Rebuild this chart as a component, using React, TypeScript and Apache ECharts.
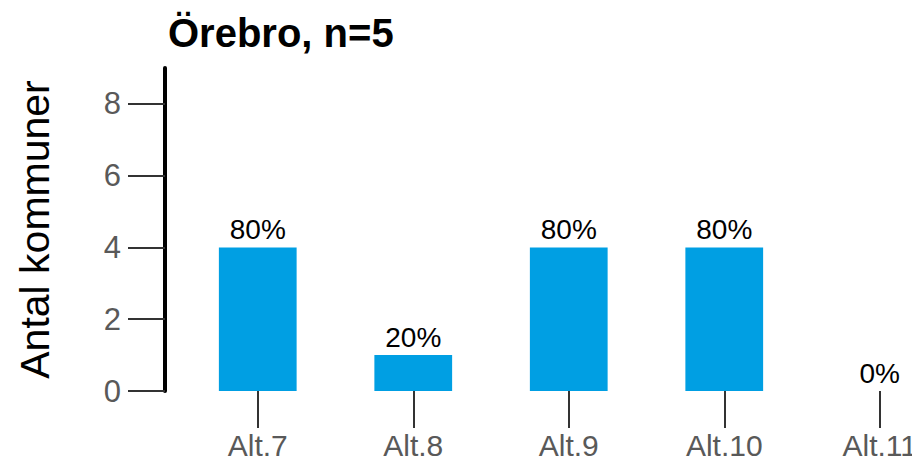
import React, { useEffect, useRef } from "react";
import * as echarts from "echarts";

const titleText = "Örebro, n=5";
const n = 5;
const categories = ["Alt.7", "Alt.8", "Alt.9", "Alt.10", "Alt.11"];
const counts = [4, 1, 4, 4, 0];
const yTicks = [0, 2, 4, 6, 8];
const yAxisName = "Antal kommuner";

export default function App() {
  const ref = useRef<HTMLDivElement>(null);
  useEffect(() => {
    if (!ref.current) return;
    const chart = echarts.init(ref.current, null, { renderer: "svg" });
    const font = "'Liberation Sans', Arial, sans-serif";
    chart.setOption({
      animation: false,
      textStyle: { fontFamily: font },
      title: {
        text: titleText,
        left: 163,
        top: 8,
        textStyle: { fontFamily: font, fontSize: 40, fontWeight: "bold", color: "#000" },
      },
      grid: { left: 180, top: 68, width: 777.5, height: 323 },
      xAxis: {
        type: "category",
        data: categories,
        axisLine: { show: false },
        axisTick: {
          show: true,
          alignWithLabel: true,
          length: 37,
          lineStyle: { color: "#333", width: 2 },
        },
        axisLabel: { color: "#595959", fontSize: 30, margin: 39, fontFamily: font },
        splitLine: { show: false },
      },
      yAxis: {
        type: "value",
        min: 0,
        max: 9,
        interval: 2,
        offset: 15,
        name: yAxisName,
        nameLocation: "middle",
        nameGap: 110,
        nameTextStyle: { fontSize: 41, color: "#000", fontFamily: font },
        axisLine: { show: true, lineStyle: { color: "#000", width: 4 } },
        axisTick: {
          show: true,
          length: 37,
          customValues: yTicks,
          lineStyle: { color: "#333", width: 2 },
        },
        axisLabel: {
          color: "#595959",
          fontSize: 31,
          margin: 44,
          customValues: yTicks,
          fontFamily: font,
        },
        splitLine: { show: false },
      },
      series: [
        {
          type: "bar",
          data: counts,
          barWidth: "50%",
          itemStyle: { color: "#009FE3" },
          label: {
            show: true,
            position: "top",
            distance: 4,
            color: "#000",
            fontSize: 28,
            fontFamily: font,
            formatter: (p: any) => `${Math.round((p.value / n) * 100)}%`,
          },
        },
      ],
    });
    return () => chart.dispose();
  }, []);
  return (
    <div style={{ width: 920, height: 465, overflow: "hidden", margin: -8, position: "relative" }}>
      <div ref={ref} style={{ width: 1000, height: 465 }} />
    </div>
  );
}
